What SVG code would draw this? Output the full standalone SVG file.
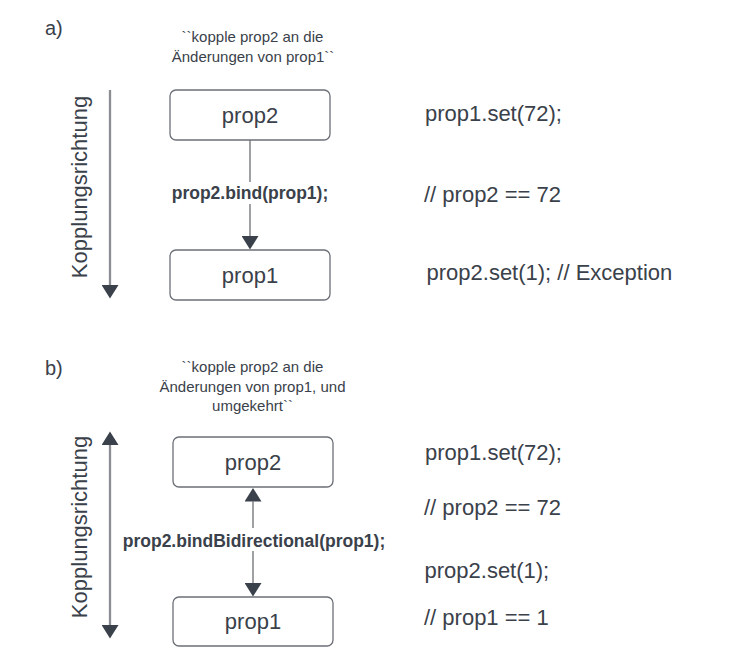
<svg xmlns="http://www.w3.org/2000/svg" width="730" height="651" viewBox="0 0 730 651">
  <defs>
    <style>
      text { font-family: "Liberation Sans", Arial, sans-serif; fill: #3a414a; }
      .label { font-size: 20px; }
      .note { font-size: 15px; text-anchor: middle; }
      .node-text { font-size: 22px; text-anchor: middle; }
      .code { font-size: 22px; }
      .edge-label { font-size: 17.5px; font-weight: bold; text-anchor: middle; }
      .axis-label { font-size: 22px; text-anchor: middle; }
      .box { fill: #ffffff; stroke: #6b6f76; stroke-width: 1.3; }
      .axis { stroke: #8a8d92; stroke-width: 2.3; fill: none; }
      .edge { stroke: #5f6368; stroke-width: 1.2; fill: none; }
      .label-bg { fill: #ffffff; }
    </style>
    <marker id="head" markerUnits="userSpaceOnUse" markerWidth="14" markerHeight="17" refX="0" refY="8.5" orient="auto-start-reverse" viewBox="0 0 14 17">
      <path d="M0,0 L13.5,8.5 L0,17 Z" fill="#3a414a"/>
    </marker>
  </defs>
  <rect width="730" height="651" fill="#ffffff"/>

  <!-- Part a -->
  <text class="label" x="45" y="35">a)</text>
  <text class="note" x="252.5" y="41.5">``kopple prop2 an die</text>
  <text class="note" x="253" y="61.5">Änderungen von prop1``</text>
  <text class="axis-label" transform="translate(87,187) rotate(-90)">Kopplungsrichtung</text>

  <!-- Part b -->
  <text class="label" x="45" y="375">b)</text>
  <text class="note" x="252.5" y="371.5">``kopple prop2 an die</text>
  <text class="note" x="252.5" y="391.5">Änderungen von prop1, und</text>
  <text class="note" x="252.5" y="411">umgekehrt``</text>
  <text class="axis-label" transform="translate(87,527) rotate(-90)">Kopplungsrichtung</text>

  <g id="connectors">
    <line class="axis" x1="110" y1="90" x2="110" y2="285" marker-end="url(#head)"/>
    <line class="edge" x1="250" y1="140" x2="250" y2="236" marker-end="url(#head)"/>
    <rect class="label-bg" x="168" y="182" width="164" height="22"/>
    <text class="edge-label" x="250" y="198.5">prop2.bind(prop1);</text>

    <line class="axis" x1="110" y1="445" x2="110" y2="625" marker-start="url(#head)" marker-end="url(#head)"/>
    <line class="edge" x1="253" y1="501.5" x2="253" y2="583" marker-start="url(#head)" marker-end="url(#head)"/>
    <rect class="label-bg" x="118" y="528" width="272" height="23"/>
    <text class="edge-label" x="254" y="546.5">prop2.bindBidirectional(prop1);</text>
  </g>

  <g id="a-prop2">
    <rect class="box" x="170" y="90" width="160" height="50" rx="6"/>
    <text class="node-text" x="250" y="122.5">prop2</text>
  </g>
  <g id="a-prop1">
    <rect class="box" x="170" y="250" width="160" height="50" rx="6"/>
    <text class="node-text" x="250" y="282.5">prop1</text>
  </g>
  <g id="b-prop2">
    <rect class="box" x="173" y="437" width="160" height="50" rx="6"/>
    <text class="node-text" x="253" y="469.5">prop2</text>
  </g>
  <g id="b-prop1">
    <rect class="box" x="173" y="597" width="160" height="49" rx="6"/>
    <text class="node-text" x="253" y="629">prop1</text>
  </g>

  <g id="code-a">
    <text class="code" x="425" y="120.5">prop1.set(72);</text>
    <text class="code" x="424" y="201.5">// prop2 == 72</text>
    <text class="code" x="426.5" y="280">prop2.set(1); // Exception</text>
  </g>
  <g id="code-b">
    <text class="code" x="425" y="460">prop1.set(72);</text>
    <text class="code" x="424" y="515">// prop2 == 72</text>
    <text class="code" x="424.5" y="578">prop2.set(1);</text>
    <text class="code" x="424" y="625">// prop1 == 1</text>
  </g>
</svg>
